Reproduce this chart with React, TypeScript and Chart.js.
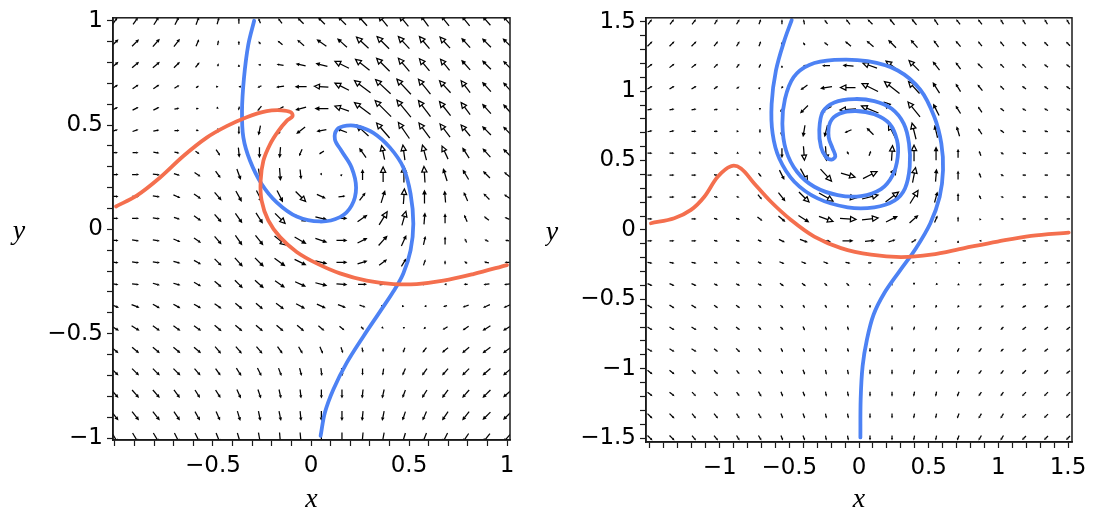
import React, { useEffect, useRef } from "react";
import { Chart, registerables } from "chart.js";

Chart.register(...registerables);

// ---------------- data ----------------
const LEFT_TICKS = [-1, -0.9, -0.8, -0.7, -0.6, -0.5, -0.4, -0.3, -0.2, -0.1, 0, 0.1, 0.2, 0.3, 0.4, 0.5, 0.6, 0.7, 0.8, 0.9, 1];
const RIGHT_TICKS = [-1.5, -1.4, -1.3, -1.2, -1.1, -1, -0.9, -0.8, -0.7, -0.6, -0.5, -0.4, -0.3, -0.2, -0.1, 0, 0.1, 0.2, 0.3, 0.4, 0.5, 0.6, 0.7, 0.8, 0.9, 1, 1.1, 1.2, 1.3, 1.4, 1.5];

const LEFT_X_LABEL_VALUES = [-0.5, 0, 0.5, 1];
const LEFT_X_LABELS = ["−0.5", "0", "0.5", "1"];
const LEFT_Y_LABEL_VALUES = [-1, -0.5, 0, 0.5, 1];
const LEFT_Y_LABELS = ["−1", "−0.5", "0", "0.5", "1"];
const RIGHT_X_LABEL_VALUES = [-1, -0.5, 0, 0.5, 1, 1.5];
const RIGHT_X_LABELS = ["−1", "−0.5", "0", "0.5", "1", "1.5"];
const RIGHT_Y_LABEL_VALUES = [-1.5, -1, -0.5, 0, 0.5, 1, 1.5];
const RIGHT_Y_LABELS = ["−1.5", "−1", "−0.5", "0", "0.5", "1", "1.5"];

// arrow lattice (same values on x and y)
const LEFT_GRID = [-1, -0.895, -0.789, -0.684, -0.579, -0.474, -0.368, -0.263, -0.158, -0.053, 0.053, 0.158, 0.263, 0.368, 0.474, 0.579, 0.684, 0.789, 0.895, 1];
const RIGHT_GRID = [-1.5, -1.342, -1.184, -1.026, -0.868, -0.711, -0.553, -0.395, -0.237, -0.079, 0.079, 0.237, 0.395, 0.553, 0.711, 0.868, 1.026, 1.184, 1.342, 1.5];

// direction field "u,v" per lattice point, rows from top (y max) to bottom
const LEFT_FIELD = [
  "5,7 5,7 5,8 4,8 3,8 2,7 0,6 -2,5 -4,5 -6,6 -7,7 -8,8 -9,10 -9,11 -9,11 -8,11 -8,10 -8,10 -8,9 -8,9",
  "7,7 7,7 7,8 6,8 3,7 1,5 0,4 -2,3 -5,4 -7,6 -10,7 -10,9 -12,11 -12,12 -11,12 -10,12 -10,11 -9,10 -9,9 -9,9",
  "7,6 7,6 7,6 6,6 4,5 1,3 0,1 -3,0 -7,1 -10,2 -12,3 -14,7 -14,11 -13,13 -11,13 -10,12 -9,11 -9,10 -9,9 -8,8",
  "6,4 6,4 6,4 5,3 3,2 1,0 -1,0 -4,-2 -8,-1 -12,0 -14,1 -14,7 -16,12 -15,14 -14,15 -12,15 -11,12 -9,12 -9,10 -8,9",
  "6,3 6,3 6,3 5,1 3,0 1,-1 -1,-4 -4,-5 -7,-4 -11,-3 -14,0 -14,5 -16,12 -16,16 -14,17 -12,16 -11,14 -9,12 -9,10 -8,9",
  "6,2 6,2 6,1 5,0 3,-1 1,-4 0,-8 -2,-10 -6,-9 -9,-7 -10,-2 -10,4 -12,11 -13,15 -11,16 -11,15 -10,13 -9,11 -9,9 -8,8",
  "6,0 6,0 6,-1 5,-1 4,-3 4,-6 1,-10 0,-11 -1,-11 -3,-7 -5,-3 -1,1 -7,10 -3,14 -2,15 -4,15 -6,13 -7,11 -8,9 -8,8",
  "7,0 7,0 7,-1 6,-2 6,-4 5,-7 4,-11 2,-12 1,-13 1,-10 1,-2 1,1 0,11 0,15 0,16 -1,16 -4,13 -6,10 -7,7 -6,5",
  "7,0 7,0 7,-1 7,-3 7,-5 7,-8 6,-11 6,-12 6,-12 10,-10 9,-4 7,1 6,8 4,13 1,15 0,14 -1,12 -4,9 -6,6 -6,4",
  "7,0 7,0 7,-1 6,-2 7,-5 7,-8 7,-10 7,-11 10,-10 11,-7 12,-3 11,0 10,7 8,13 4,14 1,12 0,10 -3,7 -5,4 -5,2",
  "7,0 7,-1 7,-1 7,-3 7,-5 7,-8 7,-10 8,-10 11,-9 12,-7 12,-4 11,0 10,5 9,10 5,11 2,9 0,8 -2,4 -4,2 -4,1",
  "7,-1 7,-1 7,-1 7,-2 7,-4 7,-7 8,-9 9,-9 11,-8 12,-6 12,-3 11,0 10,3 8,6 5,8 2,6 0,4 -3,2 -5,1 -5,0",
  "7,-1 7,-1 7,-2 7,-2 7,-4 7,-6 8,-8 9,-8 10,-7 11,-5 12,-3 11,-1 9,0 7,1 5,1 2,0 -2,0 -4,0 -6,-1 -6,-1",
  "8,-3 8,-3 7,-4 7,-4 7,-4 7,-5 7,-6 7,-6 8,-6 9,-5 9,-4 8,-3 6,-2 4,-1 1,0 -1,0 -4,-1 -6,-2 -7,-3 -7,-3",
  "8,-5 8,-5 7,-5 7,-5 7,-5 7,-6 7,-6 7,-6 7,-6 7,-6 6,-5 5,-4 3,-3 1,-1 0,-2 -2,-2 -5,-3 -6,-4 -8,-5 -8,-5",
  "7,-6 7,-6 7,-6 7,-6 7,-6 6,-7 6,-7 6,-7 5,-7 4,-7 3,-7 2,-6 1,-5 0,-4 -2,-5 -4,-5 -6,-5 -7,-6 -8,-6 -8,-6",
  "7,-7 7,-7 7,-7 7,-7 6,-7 5,-7 5,-8 4,-8 3,-8 2,-8 1,-8 1,-8 0,-7 -1,-7 -3,-7 -5,-7 -6,-7 -7,-7 -8,-7 -8,-7",
  "7,-8 7,-8 7,-8 6,-8 5,-8 5,-8 4,-9 3,-9 2,-9 1,-9 0,-9 0,-9 -1,-9 -2,-9 -3,-8 -5,-8 -6,-8 -7,-8 -8,-8 -8,-7",
  "7,-9 7,-9 7,-9 6,-9 5,-9 4,-9 3,-10 2,-10 2,-10 1,-10 0,-10 0,-10 -1,-10 -2,-10 -3,-9 -4,-9 -6,-9 -7,-9 -8,-8 -8,-8",
  "6,-10 6,-10 6,-10 5,-10 5,-10 4,-10 3,-10 2,-11 1,-11 1,-11 0,-11 0,-11 -1,-11 -2,-11 -3,-10 -4,-10 -5,-10 -6,-9 -7,-9 -7,-8",
];

const RIGHT_FIELD = [
  "4,5 4,5 4,5 3,5 3,5 2,5 0,5 -1,5 -3,4 -4,5 -5,5 -5,6 -5,6 -4,6 -4,5 -4,5 -3,5 -3,5 -3,5 -3,5",
  "5,5 5,5 5,5 4,5 3,5 2,5 0,4 -2,3 -4,3 -6,5 -7,6 -8,8 -7,8 -5,7 -5,6 -4,5 -4,5 -4,4 -4,4 -4,4",
  "5,4 5,4 5,4 4,4 3,4 2,4 0,1 -2,0 -8,0 -11,1 -14,5 -12,9 -10,10 -7,9 -5,7 -5,5 -4,4 -4,4 -4,3 -4,3",
  "5,3 5,3 5,3 4,3 3,2 1,1 -2,-2 -7,-5 -12,-2 -15,0 -16,8 -15,12 -11,12 -7,11 -5,8 -5,6 -4,4 -4,3 -4,3 -4,3",
  "5,1 5,1 5,1 4,1 2,0 0,-2 -4,-5 -8,-8 -11,-6 -16,-1 -17,7 -15,14 -12,15 -6,12 -5,8 -4,6 -4,3 -4,2 -4,2 -4,2",
  "5,1 5,1 5,0 4,0 2,0 0,-4 -1,-10 -2,-12 -3,-12 -7,-3 -7,7 -7,14 -4,16 -3,13 -3,10 -4,6 -4,3 -4,1 -4,1 -4,1",
  "5,0 5,0 5,0 4,-1 2,-1 1,-3 0,-10 1,-14 1,-14 2,-3 2,5 1,15 0,16 0,14 0,9 -2,5 -3,2 -4,1 -4,0 -4,0",
  "5,0 5,0 5,0 4,-1 3,-1 3,-4 5,-10 7,-13 11,-12 14,-4 14,7 8,13 3,15 1,13 0,9 -2,5 -3,2 -4,0 -4,0 -4,0",
  "5,0 5,0 5,0 4,-1 3,-1 4,-5 7,-9 10,-10 14,-8 16,-2 16,4 13,10 8,13 3,11 0,8 -2,4 -3,1 -4,0 -4,0 -4,0",
  "5,0 5,0 5,0 4,-1 4,-1 5,-4 7,-6 11,-7 14,-5 16,-1 16,2 12,6 9,8 3,7 0,5 -1,2 -3,1 -4,0 -4,0 -4,0",
  "5,0 5,0 5,0 4,-1 4,-1 4,-2 6,-3 8,-3 10,-2 11,0 10,1 7,2 5,3 1,2 0,1 -2,0 -3,0 -4,0 -4,0 -4,0",
  "5,-1 5,-1 5,-1 4,-1 4,-2 4,-2 5,-2 5,-2 5,-2 5,-1 4,0 3,0 2,0 0,0 -1,0 -3,-1 -4,-1 -4,-1 -4,-1 -4,-1",
  "5,-2 5,-2 5,-2 4,-2 4,-2 4,-2 4,-3 4,-3 3,-3 3,-3 2,-2 1,-2 0,-1 -1,-1 -2,-1 -3,-1 -4,-1 -4,-1 -4,-1 -4,-1",
  "5,-3 5,-3 5,-3 4,-3 4,-3 3,-3 3,-3 2,-3 2,-3 1,-3 0,-3 0,-3 -1,-3 -1,-3 -2,-2 -3,-2 -3,-2 -4,-2 -4,-2 -4,-2",
  "5,-3 5,-3 5,-3 4,-3 4,-3 3,-3 3,-3 2,-4 1,-4 1,-4 0,-4 0,-4 -1,-4 -1,-4 -2,-3 -3,-3 -3,-3 -4,-3 -4,-3 -4,-3",
  "5,-3 5,-3 5,-3 4,-3 4,-4 3,-4 2,-4 2,-4 1,-4 1,-4 0,-4 0,-4 -1,-4 -1,-4 -2,-4 -3,-4 -3,-3 -4,-3 -4,-3 -4,-3",
  "5,-4 5,-4 4,-4 4,-4 3,-4 3,-4 2,-4 2,-5 1,-5 1,-5 0,-5 0,-5 -1,-5 -1,-4 -2,-4 -3,-4 -3,-4 -4,-4 -4,-4 -4,-3",
  "5,-4 5,-4 4,-4 4,-4 3,-4 3,-5 2,-5 2,-5 1,-5 1,-5 0,-5 0,-5 -1,-5 -1,-5 -2,-5 -3,-4 -3,-4 -4,-4 -4,-4 -4,-4",
  "5,-5 5,-5 4,-5 4,-5 3,-5 3,-5 2,-5 2,-5 1,-5 1,-5 0,-5 0,-5 -1,-5 -1,-5 -2,-5 -3,-5 -3,-5 -4,-4 -4,-4 -4,-4",
  "5,-5 5,-5 4,-5 4,-5 3,-5 3,-5 2,-5 2,-5 1,-5 1,-5 0,-5 0,-5 -1,-5 -1,-5 -2,-5 -3,-5 -3,-5 -4,-4 -4,-4 -4,-4",
];

// solution curves
const LEFT_BLUE_X = [-0.29, -0.32, -0.342, -0.352, -0.345, -0.311, -0.252, -0.175, -0.073, 0.046, 0.148, 0.207, 0.23, 0.207, 0.156, 0.122, 0.134, 0.182, 0.233, 0.318, 0.403, 0.471, 0.508, 0.522, 0.508, 0.471, 0.42, 0.352, 0.267, 0.182, 0.114, 0.071, 0.049];
const LEFT_BLUE_Y = [1.0, 0.885, 0.725, 0.567, 0.44, 0.329, 0.218, 0.13, 0.062, 0.038, 0.059, 0.114, 0.2, 0.297, 0.376, 0.432, 0.48, 0.497, 0.495, 0.463, 0.392, 0.297, 0.17, 0.027, -0.1, -0.211, -0.298, -0.394, -0.513, -0.64, -0.767, -0.878, -0.99];

const LEFT_ORANGE_X = [-0.995, -0.889, -0.77, -0.651, -0.532, -0.43, -0.328, -0.226, -0.15, -0.104, -0.094, -0.125, -0.167, -0.209, -0.243, -0.257, -0.252, -0.218, -0.158, -0.073, 0.029, 0.148, 0.284, 0.42, 0.539, 0.675, 0.828, 1.0];
const LEFT_ORANGE_Y = [0.11, 0.162, 0.249, 0.352, 0.44, 0.495, 0.538, 0.567, 0.571, 0.562, 0.543, 0.519, 0.471, 0.408, 0.329, 0.233, 0.138, 0.043, -0.037, -0.108, -0.163, -0.211, -0.246, -0.262, -0.262, -0.246, -0.214, -0.171];

const RIGHT_BLUE_X = [-0.483, -0.536, -0.596, -0.627, -0.62, -0.572, -0.464, -0.297, -0.081, 0.11, 0.254, 0.33, 0.364, 0.359, 0.321, 0.235, 0.11, -0.034, -0.177, -0.261, -0.285, -0.273, -0.237, -0.196, -0.17, -0.189, -0.218, -0.206, -0.141, -0.022, 0.11, 0.218, 0.273, 0.278, 0.242, 0.158, 0.014, -0.153, -0.321, -0.445, -0.524, -0.55, -0.531, -0.469, -0.357, -0.177, 0.062, 0.278, 0.44, 0.541, 0.591, 0.603, 0.579, 0.512, 0.409, 0.29, 0.182, 0.105, 0.057, 0.026, 0.012, 0.01];
const RIGHT_BLUE_Y = [1.512, 1.364, 1.149, 0.909, 0.694, 0.514, 0.347, 0.227, 0.163, 0.163, 0.211, 0.299, 0.455, 0.622, 0.766, 0.873, 0.928, 0.943, 0.919, 0.849, 0.718, 0.598, 0.526, 0.507, 0.531, 0.586, 0.67, 0.778, 0.838, 0.857, 0.833, 0.766, 0.646, 0.526, 0.395, 0.294, 0.244, 0.251, 0.311, 0.419, 0.574, 0.766, 0.945, 1.101, 1.189, 1.225, 1.216, 1.149, 1.01, 0.814, 0.622, 0.431, 0.239, 0.048, -0.132, -0.299, -0.455, -0.61, -0.79, -0.981, -1.22, -1.496];

const RIGHT_ORANGE_X = [-1.493, -1.326, -1.206, -1.11, -1.014, -0.919, -0.847, -0.752, -0.632, -0.488, -0.321, -0.129, 0.086, 0.302, 0.517, 0.756, 0.995, 1.235, 1.505];
const RIGHT_ORANGE_Y = [0.048, 0.084, 0.144, 0.239, 0.383, 0.459, 0.443, 0.335, 0.203, 0.072, -0.048, -0.131, -0.179, -0.196, -0.179, -0.131, -0.084, -0.043, -0.019];

// ---------------- styling ----------------
const BLUE = "#4d82f4";
const ORANGE = "#f46f4e";
const INK = "#1a1a1a";
const TICK_FONT = { family: "'DejaVu Sans', 'Liberation Sans', sans-serif", size: 23 };
const ARROW_PX = 1;

function pts(xs: number[], ys: number[]) {
  return xs.map((x, i) => ({ x, y: ys[i] }));
}

function parseField(rows: string[]) {
  return rows.map((r) => r.trim().split(/\s+/).map((p) => p.split(",").map(Number)));
}

function drawArrow(ctx: CanvasRenderingContext2D, cx: number, cy: number, dx: number, dy: number) {
  const len = Math.hypot(dx, dy);
  if (len < 0.6) {
    ctx.fillRect(cx - 0.7, cy - 0.7, 1.4, 1.4);
    return;
  }
  const ux = dx / len;
  const uy = dy / len;
  const tx = cx - dx / 2;
  const ty = cy - dy / 2;
  const hx = cx + dx / 2;
  const hy = cy + dy / 2;
  const h = Math.min(5.5, Math.max(2.4, len * 0.36));
  const w = h * 0.48;
  const bx = hx - ux * h * 0.9;
  const by = hy - uy * h * 0.9;
  ctx.beginPath();
  ctx.moveTo(tx, ty);
  ctx.lineTo(bx, by);
  ctx.stroke();
  const ox = hx - ux * h;
  const oy = hy - uy * h;
  ctx.beginPath();
  ctx.moveTo(hx, hy);
  ctx.lineTo(ox - uy * w, oy + ux * w);
  ctx.lineTo(ox + uy * w, oy - ux * w);
  ctx.closePath();
  if (len > 14) {
    ctx.fillStyle = "#fff";
    ctx.fill();
    ctx.stroke();
    ctx.fillStyle = "#000";
  } else {
    ctx.fill();
  }
}

function makeFieldPlugin(grid: number[], rows: string[]) {
  const field = parseField(rows);
  return {
    id: "vectorField",
    beforeDatasetsDraw(chart: any) {
      const { ctx, chartArea: a, scales } = chart;
      ctx.save();
      ctx.beginPath();
      ctx.rect(a.left, a.top, a.right - a.left, a.bottom - a.top);
      ctx.clip();
      ctx.strokeStyle = "#000";
      ctx.fillStyle = "#000";
      ctx.lineWidth = 1.25;
      ctx.lineJoin = "miter";
      ctx.lineCap = "butt";
      const n = grid.length;
      for (let r = 0; r < field.length; r++) {
        const gy = grid[n - 1 - r];
        for (let c = 0; c < field[r].length; c++) {
          const [u, v] = field[r][c];
          const cx = scales.x.getPixelForValue(grid[c]);
          const cy = scales.y.getPixelForValue(gy);
          drawArrow(ctx, cx, cy, u * ARROW_PX, -v * ARROW_PX);
        }
      }
      ctx.restore();
    },
  };
}

const framePlugin = {
  id: "frameAndTitles",
  afterDraw(chart: any) {
    const { ctx, chartArea: a } = chart;
    ctx.save();
    ctx.strokeStyle = INK;
    ctx.lineWidth = 1.5;
    ctx.strokeRect(a.left, a.top, a.right - a.left, a.bottom - a.top);
    ctx.fillStyle = "#000";
    ctx.font = "italic 28px 'Liberation Serif', 'DejaVu Serif', serif";
    ctx.textAlign = "center";
    ctx.textBaseline = "alphabetic";
    ctx.fillText("x", (a.left + a.right) / 2, 507);
    ctx.fillText("y", a.left - 94, (a.top + a.bottom) / 2 + 10);
    ctx.restore();
  },
};

function labelFor(values: number[], texts: string[]) {
  return (v: any) => {
    const val = Number(v);
    for (let i = 0; i < values.length; i++) if (Math.abs(values[i] - val) < 1e-6) return texts[i];
    return "";
  };
}

interface PanelSpec {
  grid: number[];
  field: string[];
  ticks: number[];
  xLabelValues: number[];
  xLabels: string[];
  yLabelValues: number[];
  yLabels: string[];
  xMin: number;
  xMax: number;
  yMin: number;
  yMax: number;
  yAxisWidth: number;
  xAxisHeight: number;
  padRight: number;
  blue: { x: number; y: number }[];
  orange: { x: number; y: number }[];
}

function makeConfig(p: PanelSpec): any {
  const axisCommon = {
    type: "linear",
    grid: { drawOnChartArea: false, drawTicks: true, tickLength: 6, tickColor: INK, tickWidth: 1.2 },
    border: { display: true, color: INK, width: 1.5 },
  };
  return {
    type: "scatter",
    data: {
      datasets: [
        {
          data: p.orange,
          showLine: true,
          borderColor: ORANGE,
          borderWidth: 3.8,
          pointRadius: 0,
          tension: 0.35,
          borderCapStyle: "round",
          borderJoinStyle: "round",
        },
        {
          data: p.blue,
          showLine: true,
          borderColor: BLUE,
          borderWidth: 3.8,
          pointRadius: 0,
          tension: 0.35,
          borderCapStyle: "round",
          borderJoinStyle: "round",
        },
      ],
    },
    options: {
      animation: false,
      responsive: true,
      maintainAspectRatio: false,
      events: [],
      layout: { padding: { left: 0, top: 16, right: p.padRight, bottom: 0 } },
      plugins: { legend: { display: false }, tooltip: { enabled: false }, title: { display: false } },
      scales: {
        x: {
          ...axisCommon,
          position: "bottom",
          min: p.xMin,
          max: p.xMax,
          afterBuildTicks: (s: any) => {
            s.ticks = p.ticks.map((v) => ({ value: v }));
          },
          afterFit: (s: any) => {
            s.height = p.xAxisHeight;
          },
          ticks: {
            autoSkip: false,
            maxRotation: 0,
            minRotation: 0,
            padding: 6,
            color: "#000",
            font: TICK_FONT,
            callback: labelFor(p.xLabelValues, p.xLabels),
          },
        },
        y: {
          ...axisCommon,
          position: "left",
          min: p.yMin,
          max: p.yMax,
          afterBuildTicks: (s: any) => {
            s.ticks = p.ticks.map((v) => ({ value: v }));
          },
          afterFit: (s: any) => {
            s.width = p.yAxisWidth;
          },
          ticks: {
            autoSkip: false,
            padding: 4,
            color: "#000",
            font: TICK_FONT,
            callback: labelFor(p.yLabelValues, p.yLabels),
          },
        },
      },
    },
    plugins: [makeFieldPlugin(p.grid, p.field), framePlugin],
  };
}

function Panel({ left, width, spec }: { left: number; width: number; spec: PanelSpec }) {
  const ref = useRef<HTMLCanvasElement | null>(null);
  useEffect(() => {
    if (!ref.current) return;
    const chart = new Chart(ref.current, makeConfig(spec));
    return () => chart.destroy();
  }, [spec]);
  return (
    <div style={{ position: "absolute", left, top: 0, width, height: 516 }}>
      <canvas ref={ref} />
    </div>
  );
}

const LEFT_SPEC: PanelSpec = {
  grid: LEFT_GRID,
  field: LEFT_FIELD,
  ticks: LEFT_TICKS,
  xLabelValues: LEFT_X_LABEL_VALUES,
  xLabels: LEFT_X_LABELS,
  yLabelValues: LEFT_Y_LABEL_VALUES,
  yLabels: LEFT_Y_LABELS,
  xMin: -1.0102,
  xMax: 1.0153,
  yMin: -1.0095,
  yMax: 1.0143,
  yAxisWidth: 113,
  xAxisHeight: 76,
  padRight: 35,
  blue: pts(LEFT_BLUE_X, LEFT_BLUE_Y),
  orange: pts(LEFT_ORANGE_X, LEFT_ORANGE_Y),
};

const RIGHT_SPEC: PanelSpec = {
  grid: RIGHT_GRID,
  field: RIGHT_FIELD,
  ticks: RIGHT_TICKS,
  xLabelValues: RIGHT_X_LABEL_VALUES,
  xLabels: RIGHT_X_LABELS,
  yLabelValues: RIGHT_Y_LABEL_VALUES,
  yLabels: RIGHT_Y_LABELS,
  xMin: -1.5287,
  xMax: 1.5287,
  yMin: -1.5287,
  yMax: 1.5287,
  yAxisWidth: 101,
  xAxisHeight: 74,
  padRight: 21,
  blue: pts(RIGHT_BLUE_X, RIGHT_BLUE_Y),
  orange: pts(RIGHT_ORANGE_X, RIGHT_ORANGE_Y),
};

export default function App() {
  return (
    <div style={{ position: "absolute", left: 0, top: 0, width: 1093, height: 516, background: "#fff", overflow: "hidden" }}>
      <Panel left={0} width={545} spec={LEFT_SPEC} />
      <Panel left={545} width={548} spec={RIGHT_SPEC} />
    </div>
  );
}
